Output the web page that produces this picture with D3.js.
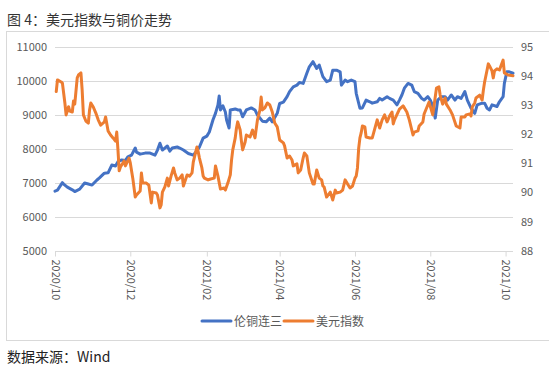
<!DOCTYPE html>
<html><head><meta charset="utf-8">
<script src="https://cdn.jsdelivr.net/npm/d3@7/dist/d3.min.js"></script>
<style>
body{margin:0;background:#fff;}
svg text{font-family:"Noto Sans CJK SC","Noto Sans",sans-serif;}
</style></head>
<body><svg id="c" width="549" height="371"></svg>
<script>
const title = "图 4：美元指数与铜价走势";
const source = "数据来源：Wind";
const seriesNames = ["伦铜连三", "美元指数"];
const leftTicks = [5000, 6000, 7000, 8000, 9000, 10000, 11000];
const rightTicks = [88, 89, 90, 91, 92, 93, 94, 95];
const xTickDates = ["2020-10-01","2020-12-01","2021-02-01","2021-04-01","2021-06-01","2021-08-01","2021-10-01"];

const copperDates = ["2020-10-01","2020-10-03","2020-10-07","2020-10-08","2020-10-11","2020-10-15","2020-10-17","2020-10-21","2020-10-25","2020-10-28","2020-10-31",
"2020-11-04","2020-11-06","2020-11-10","2020-11-13","2020-11-16","2020-11-19","2020-11-21","2020-11-24","2020-11-27","2020-11-29",
"2020-12-02","2020-12-05","2020-12-06","2020-12-09","2020-12-13","2020-12-17","2020-12-21","2020-12-23","2020-12-25","2020-12-27","2020-12-31",
"2021-01-02","2021-01-04","2021-01-08","2021-01-10","2021-01-13","2021-01-17","2021-01-21","2021-01-23","2021-01-26","2021-01-29",
"2021-02-01","2021-02-03","2021-02-06","2021-02-08","2021-02-10","2021-02-11","2021-02-12","2021-02-14","2021-02-16","2021-02-17","2021-02-19","2021-02-20","2021-02-24","2021-02-26","2021-02-28",
"2021-03-02","2021-03-05","2021-03-09","2021-03-12","2021-03-14","2021-03-18","2021-03-21","2021-03-24","2021-03-26","2021-03-30",
"2021-04-01","2021-04-04","2021-04-07","2021-04-09","2021-04-12","2021-04-15","2021-04-17","2021-04-20","2021-04-23","2021-04-25","2021-04-28",
"2021-05-01","2021-05-03","2021-05-06","2021-05-09","2021-05-12","2021-05-14","2021-05-17","2021-05-20","2021-05-21","2021-05-24","2021-05-26","2021-05-29",
"2021-06-01","2021-06-02","2021-06-05","2021-06-07","2021-06-10","2021-06-13","2021-06-15","2021-06-19","2021-06-21","2021-06-23","2021-06-27","2021-06-29",
"2021-07-02","2021-07-05","2021-07-07","2021-07-09","2021-07-11","2021-07-14","2021-07-17","2021-07-19","2021-07-22","2021-07-25","2021-07-27","2021-07-30",
"2021-08-01","2021-08-03","2021-08-05","2021-08-07","2021-08-10","2021-08-13","2021-08-15","2021-08-18","2021-08-21","2021-08-23","2021-08-26","2021-08-29","2021-08-31",
"2021-09-03","2021-09-06","2021-09-08","2021-09-12","2021-09-14","2021-09-16","2021-09-18","2021-09-20","2021-09-24","2021-09-26","2021-09-29","2021-09-30",
"2021-10-02","2021-10-04","2021-10-07"];
const copperPrices = [6750,6780,7000,6960,6870,6790,6740,6810,6990,6960,6930,
7080,7140,7280,7290,7520,7490,7620,7670,7650,7760,
7810,8020,7900,7840,7870,7870,7810,7960,8160,7960,8080,
7930,8020,8050,8020,7960,7860,7810,7900,8050,8310,
8370,8490,8850,9040,9290,9550,9140,9260,9080,8840,8610,9140,9170,9140,9140,
8940,9140,9200,9140,8990,8810,8790,8900,8790,9040,
9330,9370,9530,9680,9820,9870,9950,9920,10220,10410,10560,
10360,10460,10120,9970,10020,10310,10310,10260,9870,10020,9970,10020,
9970,9630,9190,9200,9430,9380,9340,9380,9480,9430,9530,9480,
9430,9290,9430,9580,9780,9920,9870,9680,9630,9480,9430,9530,
9430,9260,8900,9430,9530,9530,9430,9580,9430,9530,9480,9680,9430,
9190,9040,9290,9340,9340,9190,9140,9290,9240,9380,9530,9920,
10260,10260,10220];

const usdDates = ["2020-10-02","2020-10-03","2020-10-06","2020-10-07","2020-10-09","2020-10-10","2020-10-12","2020-10-13","2020-10-15","2020-10-16","2020-10-17","2020-10-19","2020-10-20","2020-10-22","2020-10-23","2020-10-24","2020-10-26","2020-10-28","2020-10-29","2020-10-30",
"2020-11-01","2020-11-03","2020-11-05","2020-11-07","2020-11-10","2020-11-11","2020-11-13","2020-11-15","2020-11-17","2020-11-19","2020-11-20","2020-11-21","2020-11-22","2020-11-23","2020-11-26","2020-11-27","2020-11-30",
"2020-12-01","2020-12-02","2020-12-03","2020-12-05","2020-12-06","2020-12-09","2020-12-10","2020-12-11","2020-12-14","2020-12-16","2020-12-18","2020-12-19","2020-12-22","2020-12-23","2020-12-25","2020-12-26","2020-12-27","2020-12-29","2020-12-31",
"2021-01-01","2021-01-03","2021-01-05","2021-01-06","2021-01-08","2021-01-10","2021-01-12","2021-01-13","2021-01-16","2021-01-18","2021-01-20","2021-01-21","2021-01-22","2021-01-24","2021-01-25","2021-01-26","2021-01-28","2021-01-29","2021-01-30",
"2021-02-02","2021-02-04","2021-02-07","2021-02-08","2021-02-10","2021-02-12","2021-02-15","2021-02-16","2021-02-18","2021-02-20","2021-02-21","2021-02-22","2021-02-24","2021-02-25","2021-02-26","2021-02-28",
"2021-03-01","2021-03-02","2021-03-04","2021-03-05","2021-03-08","2021-03-10","2021-03-12","2021-03-14","2021-03-16","2021-03-17","2021-03-18","2021-03-20","2021-03-22","2021-03-24","2021-03-26","2021-03-28","2021-03-30",
"2021-04-01","2021-04-04","2021-04-05","2021-04-07","2021-04-09","2021-04-11","2021-04-12","2021-04-15","2021-04-16","2021-04-18","2021-04-20","2021-04-21","2021-04-23","2021-04-25","2021-04-28","2021-04-29",
"2021-05-01","2021-05-03","2021-05-05","2021-05-06","2021-05-07","2021-05-09","2021-05-12","2021-05-14","2021-05-16","2021-05-17","2021-05-20","2021-05-22","2021-05-24","2021-05-26","2021-05-28","2021-05-30",
"2021-06-01","2021-06-02","2021-06-03","2021-06-04","2021-06-05","2021-06-06","2021-06-07","2021-06-09","2021-06-10","2021-06-13","2021-06-15","2021-06-19","2021-06-21","2021-06-23","2021-06-25","2021-06-27","2021-06-29",
"2021-07-01","2021-07-02","2021-07-03","2021-07-06","2021-07-07","2021-07-10","2021-07-13","2021-07-15","2021-07-18","2021-07-19","2021-07-22","2021-07-23","2021-07-26","2021-07-27","2021-07-30","2021-07-31",
"2021-08-03","2021-08-04","2021-08-06","2021-08-08","2021-08-09","2021-08-11","2021-08-13","2021-08-14","2021-08-17","2021-08-19","2021-08-22","2021-08-25","2021-08-26","2021-08-29","2021-08-30",
"2021-09-02","2021-09-03","2021-09-04","2021-09-06","2021-09-07","2021-09-10","2021-09-12","2021-09-13","2021-09-14","2021-09-16","2021-09-17","2021-09-18","2021-09-20","2021-09-21","2021-09-22","2021-09-24","2021-09-26","2021-09-29","2021-09-30",
"2021-10-03","2021-10-07"];
const usdIndex = [93.46,93.86,93.79,93.75,93.07,92.66,92.94,92.79,92.76,93.14,93.03,93.93,94.03,94.10,93.51,92.66,92.45,92.38,92.83,93.07,
92.93,92.73,92.49,92.31,92.42,92.59,92.11,91.97,91.87,91.76,92.07,91.46,90.74,90.87,91.08,90.91,91.18,
91.01,90.74,90.49,89.84,89.91,90.05,90.67,90.32,90.32,90.25,89.64,90.01,89.98,89.91,89.47,89.57,90.01,90.19,90.49,
90.22,90.56,90.84,90.67,90.43,90.49,90.60,90.22,90.60,90.56,90.67,91.04,91.22,91.56,91.39,91.18,90.84,90.56,90.49,
90.43,90.46,90.49,90.91,90.56,90.12,90.15,90.08,90.32,90.60,91.11,91.46,91.87,92.21,92.42,92.14,
91.76,91.46,91.73,91.97,91.90,92.14,91.87,92.49,92.83,93.27,92.83,92.90,93.07,93.00,92.76,92.38,92.25,
91.80,91.70,91.59,91.18,91.25,91.11,90.91,90.98,90.67,90.77,91.18,91.35,91.25,90.67,90.29,90.29,
90.77,90.49,90.43,90.22,90.19,89.84,90.01,89.74,90.08,89.98,90.01,90.08,90.43,90.29,90.15,90.22,
90.49,90.56,90.84,91.52,91.87,92.04,92.28,92.25,91.90,91.87,91.87,92.49,92.21,92.49,92.66,92.42,92.62,
92.76,92.35,92.49,92.76,92.86,92.97,92.76,92.49,91.97,92.07,92.11,92.28,92.42,92.69,93.00,93.10,
92.66,92.97,93.58,93.62,93.34,93.03,93.24,93.03,92.83,92.66,92.28,92.21,92.59,92.59,92.66,
92.69,92.62,92.93,93.07,93.24,93.34,93.17,93.51,93.79,94.20,94.41,94.34,94.17,93.93,94.17,94.24,94.20,94.54,94.10,
94.03,94.00];

(function () {
const parse = d3.timeParse("%Y-%m-%d");
const copper = copperDates.map((d, i) => ({date: parse(d), value: copperPrices[i]}));
const usd = usdDates.map((d, i) => ({date: parse(d), value: usdIndex[i]}));

const svg = d3.select("#c");
const pLeft = 55, pRight = 513, pTop = 46.7, pBottom = 250.7;
const gridColor = "#d9d9d9", labelColor = "#595959";
const blue = "#4472C4", orange = "#ED7D31";

svg.append("rect").attr("x", 6.5).attr("y", 31.5).attr("width", 560).attr("height", 309)
  .attr("fill", "none").attr("stroke", gridColor).attr("stroke-width", 1);

svg.append("text").attr("x", 7).attr("y", 25).attr("font-size", 14).attr("fill", "#333").text(title);
svg.append("text").attr("x", 7).attr("y", 362).attr("font-size", 14).attr("fill", "#222").text(source);

const x = d3.scaleTime().domain([parse("2020-10-01"), parse("2021-10-07")]).range([pLeft, pRight]);
const yL = d3.scaleLinear().domain([5000, 11000]).range([pBottom, pTop]);
const yR = d3.scaleLinear().domain([88, 95]).range([pBottom, pTop]);

svg.append("g").selectAll("line").data(leftTicks.slice(1)).join("line")
  .attr("x1", pLeft).attr("x2", pRight)
  .attr("y1", d => Math.round(yL(d)) + 0.5).attr("y2", d => Math.round(yL(d)) + 0.5)
  .attr("stroke", gridColor).attr("stroke-width", 1);

const la = svg.append("g").attr("transform", `translate(${pLeft - 8},0)`)
  .call(d3.axisLeft(yL).tickValues(leftTicks).tickSize(0).tickPadding(0).tickFormat(d3.format("d")));
la.select(".domain").remove();
la.selectAll("text").attr("font-size", 11).attr("fill", labelColor).attr("font-family", "Noto Sans, sans-serif");

const ra = svg.append("g").attr("transform", `translate(${pRight + 8},0)`)
  .call(d3.axisRight(yR).tickValues(rightTicks).tickSize(0).tickPadding(0).tickFormat(d3.format("d")));
ra.select(".domain").remove();
ra.selectAll("text").attr("font-size", 11).attr("fill", labelColor).attr("font-family", "Noto Sans, sans-serif");

const xa = svg.append("g").attr("transform", `translate(0,${Math.round(pBottom) + 0.5})`)
  .call(d3.axisBottom(x).tickValues(xTickDates.map(parse)).tickSize(5).tickSizeOuter(0)
  .tickFormat(d3.timeFormat("%Y/%m")));
xa.select(".domain").attr("stroke", gridColor).attr("d", `M${pLeft},0H${pRight}`);
xa.selectAll(".tick line").attr("stroke", gridColor);
xa.selectAll("text").attr("font-size", 11).attr("fill", labelColor).attr("font-family", "Noto Sans, sans-serif")
  .attr("transform", "rotate(90)").attr("text-anchor", "start").attr("dy", "0.35em").attr("x", 8).attr("y", 0);

const lineL = d3.line().x(d => x(d.date)).y(d => yL(d.value));
const lineR = d3.line().x(d => x(d.date)).y(d => yR(d.value));
svg.append("path").datum(copper).attr("d", lineL).attr("fill", "none").attr("stroke", blue)
  .attr("stroke-width", 3).attr("stroke-linejoin", "round").attr("stroke-linecap", "round");
svg.append("path").datum(usd).attr("d", lineR).attr("fill", "none").attr("stroke", orange)
  .attr("stroke-width", 3).attr("stroke-linejoin", "round").attr("stroke-linecap", "round");

const legend = svg.append("g");
const items = [{name: seriesNames[0], color: blue, x: 202}, {name: seriesNames[1], color: orange, x: 284}];
items.forEach(it => {
  legend.append("line").attr("x1", it.x).attr("x2", it.x + 29).attr("y1", 321).attr("y2", 321)
    .attr("stroke", it.color).attr("stroke-width", 3).attr("stroke-linecap", "round");
  legend.append("text").attr("x", it.x + 32).attr("y", 325.5).attr("font-size", 12).attr("fill", labelColor).text(it.name);
});
})();
</script></body></html>
